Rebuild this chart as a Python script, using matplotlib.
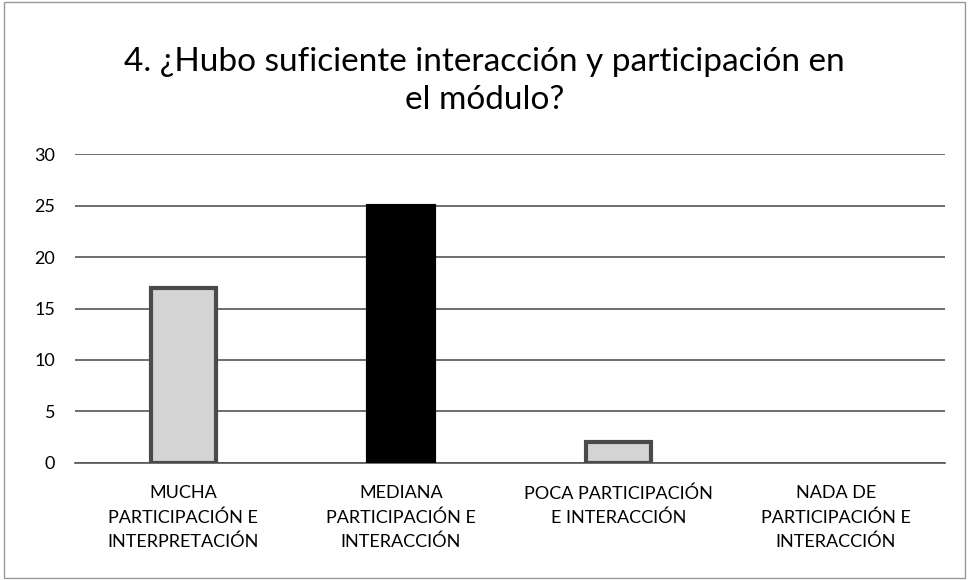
import matplotlib
matplotlib.use("Agg")
import matplotlib.pyplot as plt
from matplotlib.patches import Rectangle

categories = ["MUCHA\nPARTICIPACIÓN E\nINTERPRETACIÓN",
              "MEDIANA\nPARTICIPACIÓN E\nINTERACCIÓN",
              "POCA PARTICIPACIÓN\nE INTERACCIÓN",
              "NADA DE\nPARTICIPACIÓN E\nINTERACCIÓN"]
values = [17, 25, 2, 0]
yticks = [0, 5, 10, 15, 20, 25, 30]
title = "4. ¿Hubo suficiente interacción y participación en\nel módulo?"

face_colors = ["#d4d4d4", "#000000", "#d4d4d4", "#d4d4d4"]
edge_colors = ["#4a4a4a", "#000000", "#4a4a4a", "#4a4a4a"]

plt.rcParams['font.family'] = ['Lato', 'DejaVu Sans']

fig = plt.figure(figsize=(9.69, 5.8), dpi=100)
ax = fig.add_axes([0.077, 0.202, 0.898, 0.532])

x = list(range(len(categories)))
lws = [3 if v > 0 else 0 for v in values]
ax.bar(x, values, width=0.3, color=face_colors, edgecolor=edge_colors,
       linewidth=lws, zorder=3)

ax.set_ylim(0, 30)
ax.set_xlim(-0.5, 3.5)
ax.set_yticks(yticks)
ax.set_yticklabels([str(v) for v in yticks], fontsize=13)
ax.set_xticks(x)
ax.set_xticklabels(categories, fontsize=13, linespacing=1.6)
ax.tick_params(axis='x', length=0, pad=16)
ax.tick_params(axis='y', length=0, pad=14)
ax.yaxis.grid(True, color="#555555", linewidth=1.2, zorder=0)
for s in ["top", "right", "left"]:
    ax.spines[s].set_visible(False)
ax.spines["bottom"].set_color("#555555")
ax.spines["bottom"].set_linewidth(1.2)

fig.text(0.5, 0.86, title, ha="center", va="center", fontsize=24,
         linespacing=1.35)

fig.add_artist(Rectangle((0.004, 0.004), 0.992, 0.992, transform=fig.transFigure,
                         fill=False, edgecolor="#999999", linewidth=1))

fig.savefig("out.png", dpi=100)
